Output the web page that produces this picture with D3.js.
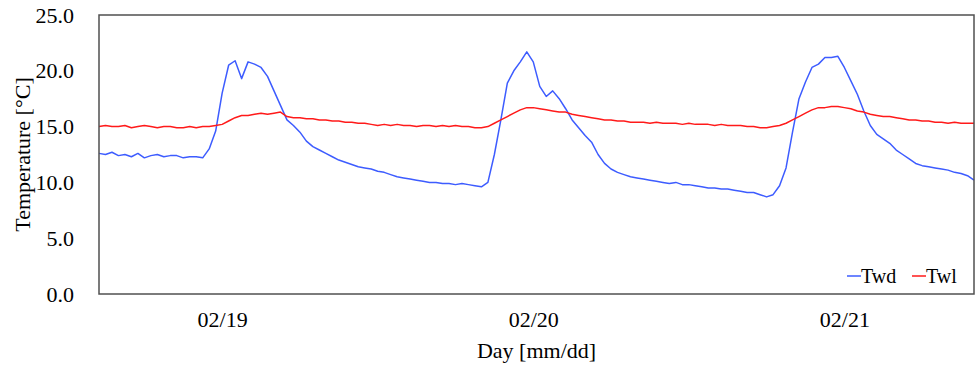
<!DOCTYPE html>
<html>
<head>
<meta charset="utf-8">
<script src="https://cdn.jsdelivr.net/npm/d3@7"></script>
<style>
  body { margin: 0; background: #fff; }
  text { font-family: "Liberation Serif", "Times New Roman", serif; fill: #000; }
</style>
</head>
<body>
<svg id="chart" width="978" height="365"></svg>
<script>
// hours counted from 02/19 00:00, one reading every half hour
const hours = d3.range(2.5, 70.001, 0.5);

const twd = [
    12.6, 12.5, 12.7, 12.4, 12.5, 12.3, 12.6, 12.2,
    12.4, 12.5, 12.3, 12.4, 12.4, 12.2, 12.3, 12.3,
    12.2, 13.0, 14.6, 18.0, 20.5, 20.9, 19.3, 20.8,
    20.6, 20.3, 19.5, 18.2, 16.9, 15.6, 15.1, 14.5,
    13.7, 13.2, 12.9, 12.6, 12.3, 12.0, 11.8, 11.6,
    11.4, 11.3, 11.2, 11.0, 10.9, 10.7, 10.5, 10.4,
    10.3, 10.2, 10.1, 10.0, 10.0, 9.9, 9.9, 9.8,
    9.9, 9.8, 9.7, 9.6, 10.0, 12.5, 15.6, 18.9,
    20.0, 20.8, 21.7, 20.8, 18.6, 17.7, 18.2, 17.5,
    16.6, 15.6, 14.9, 14.2, 13.6, 12.5, 11.7, 11.2,
    10.9, 10.7, 10.5, 10.4, 10.3, 10.2, 10.1, 10.0,
    9.9, 10.0, 9.8, 9.8, 9.7, 9.6, 9.5, 9.5,
    9.4, 9.4, 9.3, 9.2, 9.1, 9.1, 8.9, 8.7,
    8.9, 9.7, 11.3, 14.5, 17.5, 19.0, 20.3, 20.6,
    21.2, 21.2, 21.3, 20.3, 19.1, 17.9, 16.4, 15.1,
    14.3, 13.9, 13.5, 12.9, 12.5, 12.1, 11.7, 11.5,
    11.4, 11.3, 11.2, 11.1, 10.9, 10.8, 10.6, 10.2
];

const twl = [
    15.0, 15.1, 15.0, 15.0, 15.1, 14.9, 15.0, 15.1,
    15.0, 14.9, 15.0, 15.0, 14.9, 14.9, 15.0, 14.9,
    15.0, 15.0, 15.1, 15.2, 15.5, 15.8, 16.0, 16.0,
    16.1, 16.2, 16.1, 16.2, 16.3, 15.9, 15.8, 15.8,
    15.7, 15.7, 15.6, 15.6, 15.5, 15.5, 15.4, 15.4,
    15.3, 15.3, 15.2, 15.1, 15.2, 15.1, 15.2, 15.1,
    15.1, 15.0, 15.1, 15.1, 15.0, 15.1, 15.0, 15.1,
    15.0, 15.0, 14.9, 14.9, 15.0, 15.3, 15.6, 15.9,
    16.2, 16.5, 16.7, 16.7, 16.6, 16.5, 16.4, 16.3,
    16.3, 16.1, 16.0, 15.9, 15.8, 15.7, 15.6, 15.6,
    15.5, 15.5, 15.4, 15.4, 15.4, 15.3, 15.4, 15.3,
    15.3, 15.3, 15.2, 15.3, 15.2, 15.2, 15.2, 15.1,
    15.2, 15.1, 15.1, 15.1, 15.0, 15.0, 14.9, 14.9,
    15.0, 15.1, 15.3, 15.6, 15.9, 16.2, 16.5, 16.7,
    16.7, 16.8, 16.8, 16.7, 16.6, 16.4, 16.3, 16.1,
    16.0, 15.9, 15.9, 15.8, 15.7, 15.6, 15.6, 15.5,
    15.5, 15.4, 15.4, 15.3, 15.4, 15.3, 15.3, 15.3
];

// day labels sit at noon of each day
const dayTicks = [12, 36, 60];
const dayLabels = ["02/19", "02/20", "02/21"];
const yTicks = [0, 5, 10, 15, 20, 25];

const series = [
    { name: "Twd", values: twd, color: "#3d5cff" },
    { name: "Twl", values: twl, color: "#ff1a1a" }
];

const size = { left: 99, right: 974, top: 15, bottom: 294 };
const svg = d3.select("#chart");

const xScale = d3.scaleLinear()
    .domain([2.5, 70])
    .range([size.left, size.right]);

const yScale = d3.scaleLinear()
    .domain([0, 25])
    .range([size.bottom, size.top]);

const line = d3.line()
    .x(d => xScale(d[0]))
    .y(d => yScale(d[1]));

series.forEach(s => {
    svg.append("path")
        .datum(hours.map((h, i) => [h, s.values[i]]))
        .attr("fill", "none")
        .attr("stroke", s.color)
        .attr("stroke-width", 1.5)
        .attr("stroke-linejoin", "round")
        .attr("d", line);
});

// frame
svg.append("rect")
    .attr("x", size.left)
    .attr("y", size.top)
    .attr("width", size.right - size.left)
    .attr("height", size.bottom - size.top)
    .attr("fill", "none")
    .attr("stroke", "#505050")
    .attr("stroke-width", 1.5);

// axes (labels only, no tick marks)
const yAxis = svg.append("g")
    .attr("transform", `translate(${size.left}, 0)`)
    .call(d3.axisLeft(yScale).tickValues(yTicks).tickFormat(d3.format(".1f")).tickSize(0).tickPadding(25));
yAxis.select(".domain").remove();
yAxis.selectAll("text").attr("font-size", 22).attr("font-family", "Liberation Serif");

const xAxis = svg.append("g")
    .attr("transform", `translate(0, ${size.bottom})`)
    .call(d3.axisBottom(xScale).tickValues(dayTicks).tickFormat((d, i) => dayLabels[i]).tickSize(0).tickPadding(17));
xAxis.select(".domain").remove();
xAxis.selectAll("text").attr("font-size", 22).attr("font-family", "Liberation Serif");

// labels
svg.append("text")
    .attr("x", (size.left + size.right) / 2)
    .attr("y", 358)
    .attr("text-anchor", "middle")
    .attr("font-size", 22)
    .text("Day [mm/dd]");

svg.append("text")
    .attr("transform", "rotate(-90)")
    .attr("x", -(size.top + size.bottom) / 2)
    .attr("y", 30)
    .attr("text-anchor", "middle")
    .attr("font-size", 22)
    .text("Temperature [°C]");

// legend
const legend = svg.append("g").attr("transform", "translate(847, 276)");
series.forEach((s, i) => {
    const g = legend.append("g").attr("transform", `translate(${i * 65}, 0)`);
    g.append("line")
        .attr("x1", 0).attr("x2", 14)
        .attr("y1", 0).attr("y2", 0)
        .attr("stroke", s.color)
        .attr("stroke-width", 1.5);
    g.append("text")
        .attr("x", 14)
        .attr("y", 7)
        .attr("font-size", 20)
        .text(s.name);
});
</script>
</body>
</html>
